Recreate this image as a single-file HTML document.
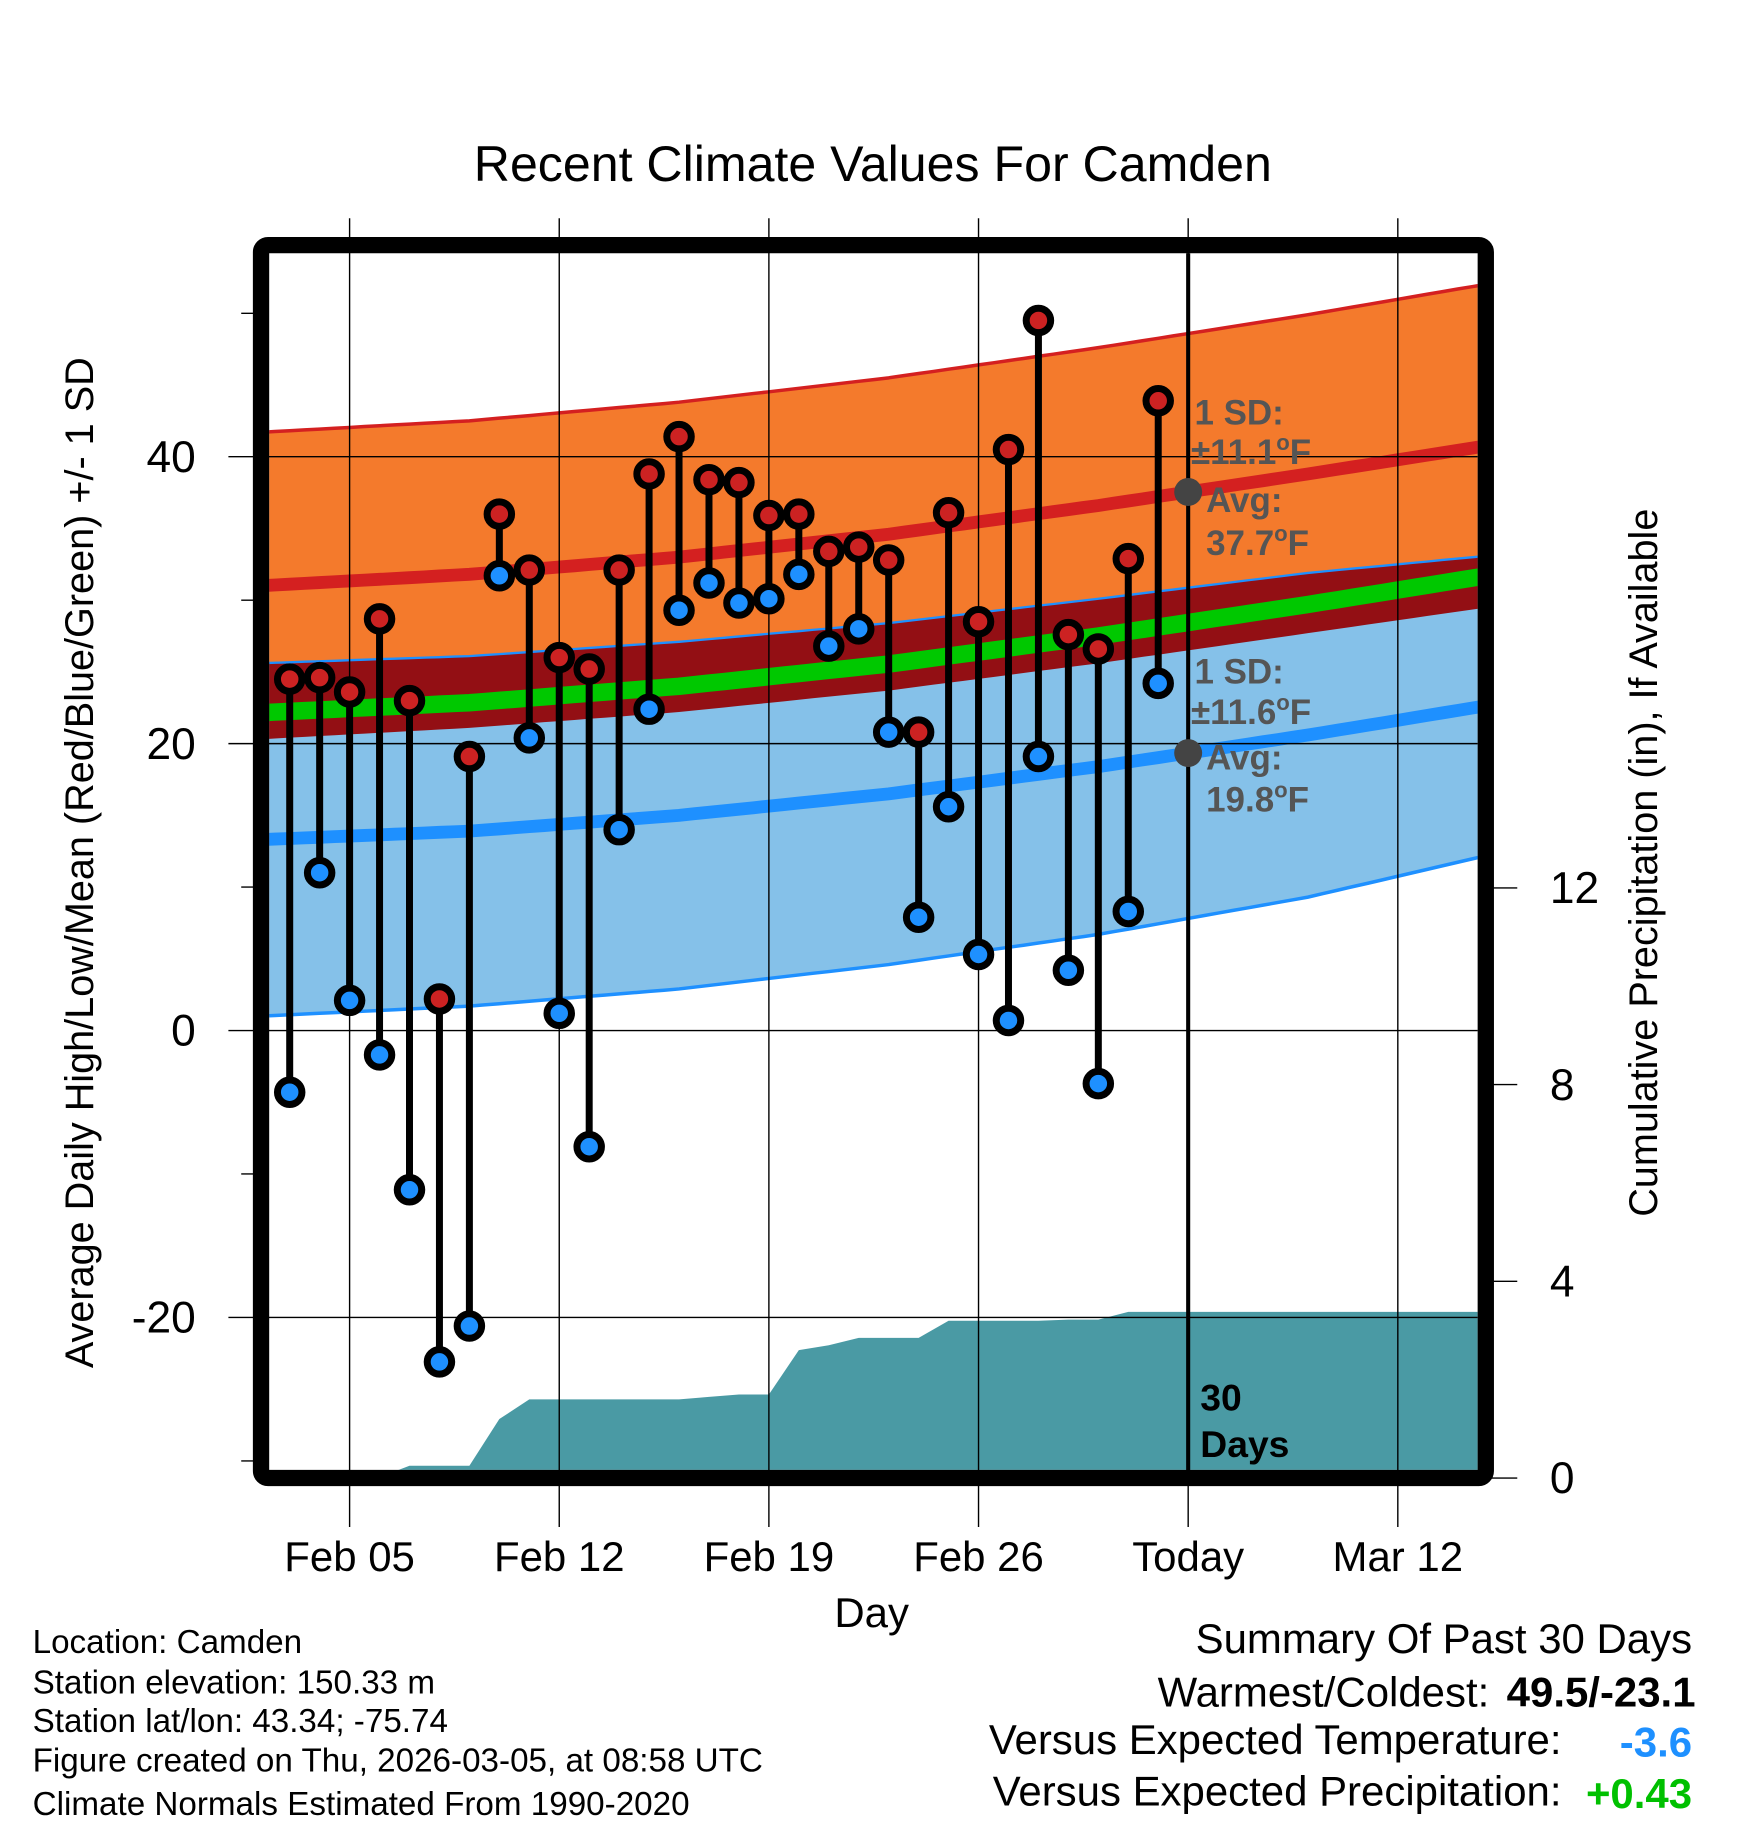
<!DOCTYPE html>
<html><head><meta charset="utf-8"><style>
html,body{margin:0;padding:0;background:#fff}
svg{display:block}
text{font-family:"Liberation Sans",Arial,sans-serif}
</style></head><body>
<svg id="chart" width="1748" height="1828" viewBox="0 0 1500 1568" xmlns="http://www.w3.org/2000/svg">
<defs><clipPath id="plotclip"><rect x="231" y="217" width="1037" height="1044"/></clipPath></defs>
<text x="749" y="155" font-size="43" text-anchor="middle">Recent Climate Values For Camden</text>
<g id="plot" clip-path="url(#plotclip)"></g>
<g id="grid"></g>
<g id="marks"></g>
<rect x="224" y="210" width="1051" height="1058" rx="6" fill="none" stroke="#000" stroke-width="14"/>
<g id="axes"></g>
<g font-size="30" font-weight="bold" fill="#555">
<text x="1025" y="364">1 SD:</text><text x="1022" y="398">±11.1<tspan font-size="19" dy="-12">o</tspan><tspan dy="12">F</tspan></text>
<text x="1035" y="439">Avg:</text><text x="1035" y="476">37.7<tspan font-size="19" dy="-12">o</tspan><tspan dy="12">F</tspan></text>
<text x="1025" y="586">1 SD:</text><text x="1022" y="621">±11.6<tspan font-size="19" dy="-12">o</tspan><tspan dy="12">F</tspan></text>
<text x="1035" y="660">Avg:</text><text x="1035" y="696">19.8<tspan font-size="19" dy="-12">o</tspan><tspan dy="12">F</tspan></text>
</g>
<g font-size="32" font-weight="bold"><text x="1030" y="1210">30</text><text x="1030" y="1250">Days</text></g>
<text x="748" y="1396" font-size="36" text-anchor="middle">Day</text>
<text transform="translate(80,740) rotate(-90)" font-size="34" text-anchor="middle">Average Daily High/Low/Mean (Red/Blue/Green) +/- 1 SD</text>
<text transform="translate(1422,740) rotate(-90)" font-size="34" text-anchor="middle">Cumulative Precipitation (in), If Available</text>
<g font-size="28.5">
<text x="28" y="1418">Location: Camden</text>
<text x="28" y="1453">Station elevation: 150.33 m</text>
<text x="28" y="1486">Station lat/lon: 43.34; -75.74</text>
<text x="28" y="1520">Figure created on Thu, 2026-03-05, at 08:58 UTC</text>
<text x="28" y="1557">Climate Normals Estimated From 1990-2020</text>
</g>
<g font-size="36">
<text x="1452" y="1418" text-anchor="end">Summary Of Past 30 Days</text>
<text x="1278" y="1464" text-anchor="end">Warmest/Coldest:</text>
<text x="1455" y="1464" text-anchor="end" font-weight="bold">49.5/-23.1</text>
<text x="1340" y="1505" text-anchor="end">Versus Expected Temperature:</text>
<text x="1452" y="1507" text-anchor="end" font-weight="bold" fill="#1e90ff">-3.6</text>
<text x="1340" y="1549" text-anchor="end">Versus Expected Precipitation:</text>
<text x="1452" y="1551" text-anchor="end" font-weight="bold" fill="#00c000">+0.43</text>
</g>
</svg>
<script>
// observed data, days Feb 3 .. Mar 4 (day offset from Feb 05)
const dayOffsets = [-2,-1,0,1,2,3,4,5,6,7,8,9,10,11,12,13,14,15,16,17,18,19,20,21,22,23,24,25,26,27];
const highs = [24.5,24.6,23.6,28.7,23.0,2.2,19.1,36.0,32.1,26.0,25.2,32.1,38.8,41.4,38.4,38.2,35.9,36.0,33.4,33.7,32.8,20.8,36.1,28.5,40.5,49.5,27.6,26.6,32.9,43.9];
const lows = [-4.3,11.0,2.1,-1.7,-11.1,-23.1,-20.6,31.7,20.4,1.2,-8.1,14.0,22.4,29.3,31.2,29.8,30.1,31.8,26.8,28.0,20.8,7.9,15.6,5.3,0.7,19.1,4.2,-3.7,8.3,24.2];
const precip = [0,0,0,0.02,0.25,0.25,0.25,1.2,1.6,1.6,1.6,1.6,1.6,1.6,1.65,1.7,1.7,2.6,2.7,2.85,2.85,2.85,3.2,3.2,3.2,3.2,3.22,3.22,3.38,3.38];
// climate normals at sample days (offset from Feb 05)
const normDays = [-3,4,11,18,25,32,39];
const normHigh = [31.0,31.8,33.0,34.6,36.6,38.8,41.1];
const normHighSD = [10.7,10.7,10.8,10.9,11.0,11.1,11.3];
const normLow = [13.3,13.9,15.0,16.5,18.4,20.6,23.0];
const normLowSD = [12.3,12.2,12.1,11.9,11.7,11.3,10.3];
const xTickDays = [0,7,14,21,28,35];
const xTickLabels = ["Feb 05","Feb 12","Feb 19","Feb 26","Today","Mar 12"];
const yTicks = [40,20,0,-20];
const yMinor = [50,30,10,-10,-30];
const pTicks = [0,4,8,12];
const todayDay = 28;

const NS="http://www.w3.org/2000/svg";
const X = d => 300 + d*25.7;
const Y = v => 884 - v*12.31;
const P = p => 1268 - p*42.2;
function mk(tag, attrs, parent){const e=document.createElementNS(NS,tag);for(const k in attrs)e.setAttribute(k,attrs[k]);parent.appendChild(e);return e;}
function interp(arr, d){
  if(d<=normDays[0])return arr[0];
  for(let i=1;i<normDays.length;i++){if(d<=normDays[i]){const t=(d-normDays[i-1])/(normDays[i]-normDays[i-1]);return arr[i-1]+t*(arr[i]-arr[i-1]);}}
  return arr[arr.length-1];
}
const plot=document.getElementById('plot'), grid=document.getElementById('grid'), marks=document.getElementById('marks'), axes=document.getElementById('axes');
const samples=[];for(let d=-3;d<=39;d+=0.5)samples.push(d);
function band(fnTop, fnBot, fill, name){
  let s=samples.map((d,i)=>(i?'L':'M')+X(d).toFixed(1)+','+Y(fnTop(d)).toFixed(1)).join('');
  s+=samples.slice().reverse().map(d=>'L'+X(d).toFixed(1)+','+Y(fnBot(d)).toFixed(1)).join('')+'Z';
  const e=mk('path',{d:s,fill:fill},plot);
  
  
}
function line(fn, stroke, w, name){
  const s=samples.map((d,i)=>(i?'L':'M')+X(d).toFixed(1)+','+Y(fn(d)).toFixed(1)).join('');
  const e=mk('path',{d:s,fill:'none',stroke:stroke,'stroke-width':w},plot);
  
  
}
const hi=d=>interp(normHigh,d), hs=d=>interp(normHighSD,d), lo=d=>interp(normLow,d), ls=d=>interp(normLowSD,d);
band(d=>hi(d)+hs(d), d=>hi(d)-hs(d), '#f47a2c', 'high-sd-band');
band(d=>lo(d)+ls(d), d=>lo(d)-ls(d), '#85c1e9', 'low-sd-band');
band(d=>lo(d)+ls(d), d=>hi(d)-hs(d), '#930f14', 'overlap-band');
line(d=>hi(d)+hs(d), '#d42020', 3, 'high-upper-line');
line(d=>lo(d)+ls(d), '#1e90ff', 2, 'low-upper-line');
line(d=>lo(d)-ls(d), '#1e90ff', 3, 'low-lower-line');
line(d=>(hi(d)+lo(d))/2, '#00c800', 15, 'mean-line');
line(hi, '#d42020', 11, 'high-mean-line');
line(lo, '#1e90ff', 11, 'low-mean-line');
// precipitation area
let ps='M231,'+P(0)+'L'+X(dayOffsets[0]-0.5)+','+P(0);
dayOffsets.forEach((d,i)=>{ps+='L'+X(d)+','+P(precip[i]).toFixed(1);});
ps+='L1270,'+P(precip[precip.length-1]).toFixed(1)+'L1270,1270L231,1270Z';
const pa=mk('path',{d:ps,fill:'#4a9aa4'},plot);


// grid
xTickDays.forEach((d,i)=>{
  const g=mk('line',{x1:X(d),x2:X(d),y1:187,y2:1310,stroke:'#000','stroke-width':1.2},grid);
  
  
  const t=mk('text',{x:X(d),y:1348,'font-size':36,'text-anchor':'middle'},axes);t.textContent=xTickLabels[i];
  
  
});
yTicks.forEach(v=>{
  const g=mk('line',{x1:196,x2:1268,y1:Y(v),y2:Y(v),stroke:'#000','stroke-width':1.2},grid);
  
  
  const t=mk('text',{x:168,y:Y(v)+13,'font-size':38,'text-anchor':'end'},axes);t.textContent=v;
  
  
});
yMinor.forEach(v=>{
  const g=mk('line',{x1:207,x2:224,y1:Y(v),y2:Y(v),stroke:'#000','stroke-width':1.2},axes);
  
  
});
pTicks.forEach(p=>{
  const g=mk('line',{x1:1275,x2:1302,y1:P(p),y2:P(p),stroke:'#000','stroke-width':1.2},axes);
  
  
  const t=mk('text',{x:1330,y:P(p)+13,'font-size':38,'text-anchor':'start'},axes);t.textContent=p;
  
  
});
const tl=mk('line',{x1:X(todayDay),x2:X(todayDay),y1:217,y2:1262,stroke:'#000','stroke-width':3.5},grid);


[hi(todayDay),lo(todayDay)].forEach(v=>{
  const c=mk('circle',{cx:X(todayDay),cy:Y(v),r:12,fill:'#444'},grid);
  
  
});
// stems and markers
dayOffsets.forEach((d,i)=>{
  const s=mk('line',{x1:X(d),x2:X(d),y1:Y(highs[i]),y2:Y(lows[i]),stroke:'#000','stroke-width':6},marks);
  
  
});
dayOffsets.forEach((d,i)=>{
  [[highs[i],'#cc2222','high-point'],[lows[i],'#1e90ff','low-point']].forEach(([v,f,n])=>{
    const c=mk('circle',{cx:X(d),cy:Y(v),r:10.5,fill:f,stroke:'#000','stroke-width':6},marks);
    
    
  });
});
</script>
</body></html>
